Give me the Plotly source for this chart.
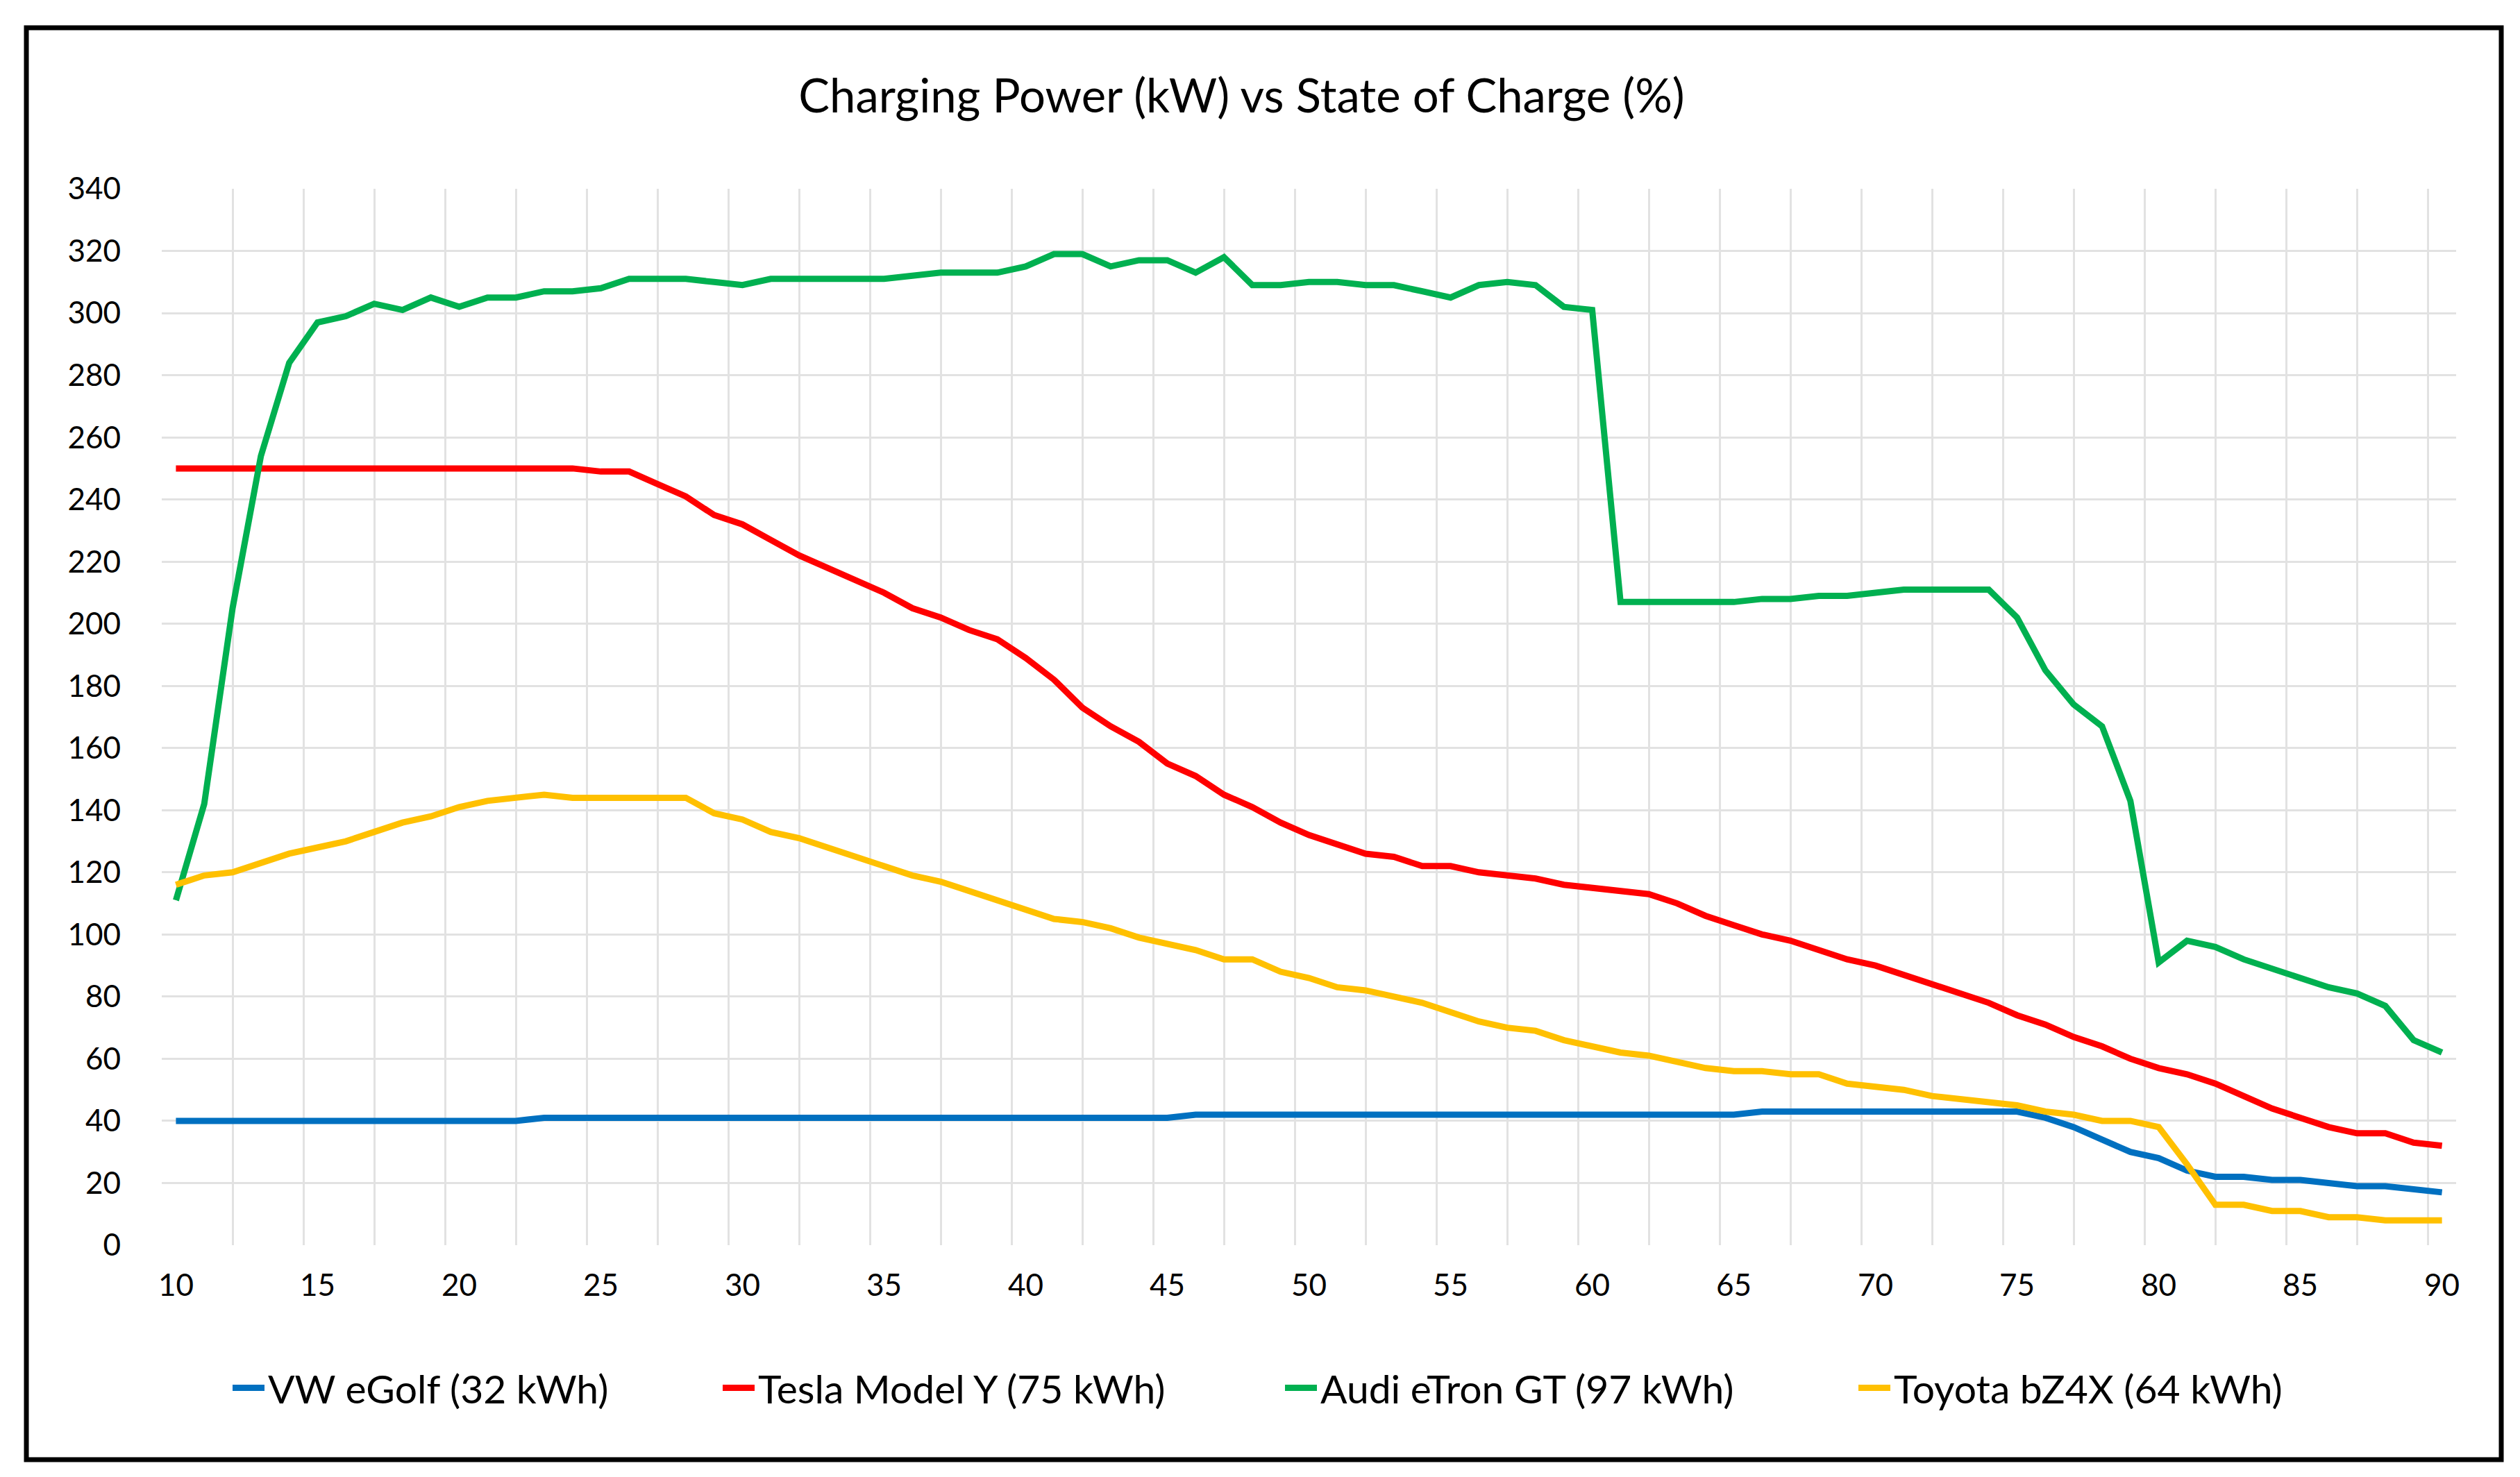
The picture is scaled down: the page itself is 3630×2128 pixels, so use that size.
import plotly.graph_objects as go

# state of charge (%) on the x axis, one reading per percent
soc = list(range(10, 91))

# charging power (kW)
vw_egolf = [40, 40, 40, 40, 40, 40, 40, 40, 40, 40,
            40, 40, 40, 41, 41, 41, 41, 41, 41, 41,
            41, 41, 41, 41, 41, 41, 41, 41, 41, 41,
            41, 41, 41, 41, 41, 41, 42, 42, 42, 42,
            42, 42, 42, 42, 42, 42, 42, 42, 42, 42,
            42, 42, 42, 42, 42, 42, 43, 43, 43, 43,
            43, 43, 43, 43, 43, 43, 41, 38, 34, 30,
            28, 24, 22, 22, 21, 21, 20, 19, 19, 18,
            17]
tesla_y = [250, 250, 250, 250, 250, 250, 250, 250, 250, 250,
           250, 250, 250, 250, 250, 249, 249, 245, 241, 235,
           232, 227, 222, 218, 214, 210, 205, 202, 198, 195,
           189, 182, 173, 167, 162, 155, 151, 145, 141, 136,
           132, 129, 126, 125, 122, 122, 120, 119, 118, 116,
           115, 114, 113, 110, 106, 103, 100, 98, 95, 92,
           90, 87, 84, 81, 78, 74, 71, 67, 64, 60,
           57, 55, 52, 48, 44, 41, 38, 36, 36, 33,
           32]
audi_gt = [111, 142, 205, 254, 284, 297, 299, 303, 301, 305,
           302, 305, 305, 307, 307, 308, 311, 311, 311, 310,
           309, 311, 311, 311, 311, 311, 312, 313, 313, 313,
           315, 319, 319, 315, 317, 317, 313, 318, 309, 309,
           310, 310, 309, 309, 307, 305, 309, 310, 309, 302,
           301, 207, 207, 207, 207, 207, 208, 208, 209, 209,
           210, 211, 211, 211, 211, 202, 185, 174, 167, 143,
           91, 98, 96, 92, 89, 86, 83, 81, 77, 66,
           62]
toyota_bz4x = [116, 119, 120, 123, 126, 128, 130, 133, 136, 138,
               141, 143, 144, 145, 144, 144, 144, 144, 144, 139,
               137, 133, 131, 128, 125, 122, 119, 117, 114, 111,
               108, 105, 104, 102, 99, 97, 95, 92, 92, 88,
               86, 83, 82, 80, 78, 75, 72, 70, 69, 66,
               64, 62, 61, 59, 57, 56, 56, 55, 55, 52,
               51, 50, 48, 47, 46, 45, 43, 42, 40, 40,
               38, 26, 13, 13, 11, 11, 9, 9, 8, 8,
               8]

names = ['VW eGolf (32 kWh)', 'Tesla Model Y (75 kWh)',
         'Audi eTron GT (97 kWh)', 'Toyota bZ4X (64 kWh)']
colors = ['#0070C0', '#FF0000', '#00B050', '#FFC000']
series = [vw_egolf, tesla_y, audi_gt, toyota_bz4x]

FONT = 'Lato, Roboto, sans-serif'
W, H = 3630, 2128
L, R, T, B = 225, 100, 264, 342

# one legend per series so each key sits where the original put it (px from left)
legend_x = [322, 1028, 1838, 2664]
legend_ids = ['legend', 'legend2', 'legend3', 'legend4']

fig = go.Figure()
for name, color, vals, lg in zip(names, colors, series, legend_ids):
    fig.add_trace(go.Scatter(x=soc, y=vals, mode='lines', name=name,
                             legend=lg, showlegend=True,
                             line=dict(color=color, width=9)))

grid = '#E2E2E2'
fig.update_layout(
    width=W, height=H,
    showlegend=True,
    margin=dict(l=L, r=R, t=T, b=B),
    paper_bgcolor='white', plot_bgcolor='white',
    font=dict(family=FONT, color='black', size=44),
    title=dict(text='Charging Power (kW) vs State of Charge (%)',
               font=dict(size=67), x=0.4905, xanchor='center',
               y=1 - 131 / H, yanchor='middle'),
    xaxis=dict(range=[9.5, 90.5], tickmode='linear', tick0=10, dtick=5,
               showgrid=False, zeroline=False, showline=False, ticks='',
               ticklabelstandoff=28,
               minor=dict(tickmode='linear', tick0=9.5, dtick=2.5,
                          showgrid=True, gridcolor=grid, gridwidth=3)),
    yaxis=dict(range=[0, 340], tickmode='linear', tick0=0, dtick=20,
               showgrid=True, gridcolor=grid, gridwidth=3,
               zeroline=False, showline=False, ticks='',
               ticklabelstandoff=58),
)
for lg, lx in zip(legend_ids, legend_x):
    fig.update_layout({lg: dict(orientation='h', xref='container',
                                yref='container', x=lx / W, xanchor='left',
                                y=1 - 1992 / H, yanchor='middle',
                                bgcolor='rgba(0,0,0,0)', visible=True,
                                font=dict(size=57), itemwidth=46)})

# black frame round the whole chart
pw, ph = W - L - R, H - T - B
fig.add_shape(type='rect', xref='paper', yref='paper',
              x0=(30 - L) / pw, x1=(3595 - L) / pw,
              y0=-(2095 - (H - B)) / ph, y1=(H - B - 32) / ph,
              line=dict(color='black', width=7), layer='above')

fig.write_html("out.html")
